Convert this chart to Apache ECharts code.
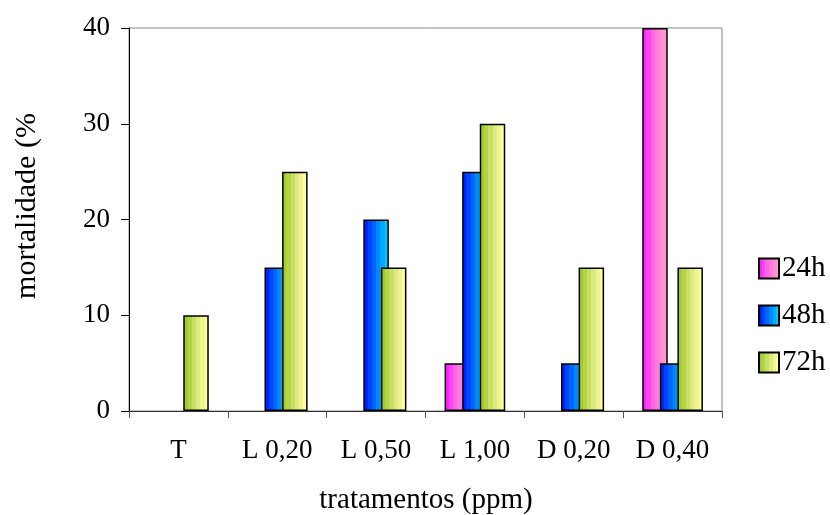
<!DOCTYPE html>
<html>
<head>
<meta charset="utf-8">
<script src="https://cdn.jsdelivr.net/npm/echarts@6/dist/echarts.min.js"></script>
<style>
html,body{margin:0;padding:0;background:#fff;}
#c{width:830px;height:515px;}
</style>
</head>
<body>
<div id="c"></div>
<script>
const categories = ['T', 'L 0,20', 'L 0,50', 'L 1,00', 'D 0,20', 'D 0,40'];
const seriesNames = ['24h', '48h', '72h'];
const values24h = [0, 0, 0, 5, 0, 40];
const values48h = [0, 15, 20, 25, 5, 5];
const values72h = [10, 25, 15, 30, 15, 15];
const yTicks = [0, 10, 20, 30, 40];

const FONT = 'Liberation Serif';

function bands(colors) {
  const stops = [];
  const n = colors.length;
  colors.forEach((c, i) => {
    stops.push({ offset: i / n, color: c });
    stops.push({ offset: (i + 1) / n - 0.0001, color: c });
  });
  return { type: 'linear', x: 0, y: 0, x2: 1, y2: 0, colorStops: stops };
}

const pinkBands = ['#FF22FF', '#FF44F4', '#FF66E6', '#FF7DDA', '#FF8FD2', '#FF99CC'];
const blueBands = ['#0022FF', '#0044FF', '#0066FF', '#0088FF', '#00AAFF', '#00C8FF'];
const greenBands = ['#A0CC33', '#B4D444', '#C8DF66', '#DCEA80', '#EEF590', '#FFFF99'];
const palettes = [pinkBands, blueBands, greenBands];
const allValues = [values24h, values48h, values72h];

const chart = echarts.init(document.getElementById('c'), null, { renderer: 'canvas' });

const series = seriesNames.map((name, i) => ({
  name: name,
  type: 'bar',
  barWidth: 25.5,
  barGap: '-31%',
  data: allValues[i].map(v => (v === 0 ? '-' : v)),
  itemStyle: {
    color: bands(palettes[i]),
    borderColor: '#000',
    borderWidth: 1.5
  },
  emphasis: { disabled: true }
}));

chart.setOption({
  animation: false,
  backgroundColor: '#fff',
  grid: {
    left: 129, right: 108, top: 28, bottom: 104,
    show: true, borderColor: '#888', borderWidth: 1, backgroundColor: 'transparent'
  },
  legend: {
    orient: 'vertical',
    left: 753,
    top: 249,
    itemWidth: 20,
    itemHeight: 20,
    itemGap: 18,
    icon: 'rect',
    data: seriesNames,
    textStyle: { fontFamily: FONT, fontSize: 29, color: '#000', padding: [0, 0, 0, -2] }
  },
  xAxis: {
    type: 'category',
    data: categories,
    boundaryGap: true,
    axisLine: { lineStyle: { color: '#333', width: 1 } },
    axisTick: { show: true, length: 7, lineStyle: { color: '#555' } },
    axisLabel: { fontFamily: FONT, fontSize: 27, color: '#000', margin: 26 },
    splitLine: { show: false }
  },
  yAxis: {
    type: 'value',
    min: yTicks[0],
    max: yTicks[yTicks.length - 1],
    interval: 10,
    axisLine: { show: true, lineStyle: { color: '#000', width: 1 } },
    axisTick: { show: true, length: 8, lineStyle: { color: '#000' } },
    axisLabel: { fontFamily: FONT, fontSize: 27, color: '#000', margin: 19 },
    splitLine: { show: false }
  },
  graphic: [
    {
      type: 'text',
      x: 27, y: 206,
      rotation: Math.PI / 2,
      style: {
        text: 'mortalidade (%',
        font: '30px "Liberation Serif"',
        fill: '#000',
        textAlign: 'center',
        textVerticalAlign: 'middle'
      }
    },
    {
      type: 'text',
      x: 426, y: 500,
      style: {
        text: 'tratamentos (ppm)',
        font: '29px "Liberation Serif"',
        fill: '#000',
        textAlign: 'center',
        textVerticalAlign: 'middle'
      }
    }
  ],
  series: series
});
</script>
</body>
</html>
